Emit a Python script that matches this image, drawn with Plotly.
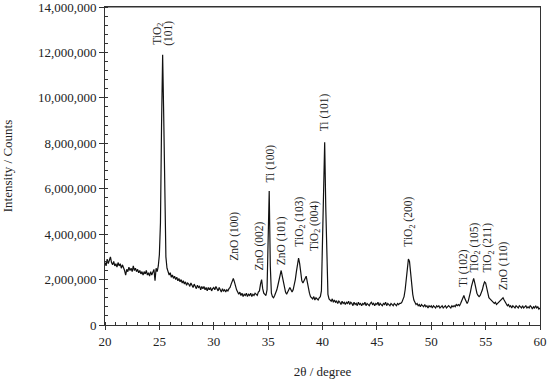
import numpy as np
import plotly.graph_objects as go

# 2θ scan from 20° to 60° in 0.1° steps; intensity (thousands of counts)
intensity_k = [
    # 20.0 - 20.9
    2750, 2600, 2900, 2700, 2850, 3000, 2750, 2650, 2800, 2600,
    # 21.0 - 21.9
    2700, 2550, 2750, 2600, 2700, 2500, 2650, 2550, 2400, 2200,
    # 22.0 - 22.9
    2450, 2350, 2550, 2400, 2500, 2350, 2600, 2400, 2500, 2350,
    # 23.0 - 23.9
    2450, 2300, 2400, 2250, 2350, 2200, 2350, 2250, 2400, 2200,
    # 24.0 - 24.9
    2300, 2150, 2350, 2200, 2300, 2450, 1950, 2500, 2350, 2600,
    # 25.0 - 25.9
    3100, 4500, 8800, 11900, 9200, 4800, 3000, 2500, 2350, 2200,
    # 26.0 - 26.9
    2300, 2100, 2200, 2050, 2150, 2000, 2100, 1950, 2050, 1900,
    # 27.0 - 27.9
    2000, 1850, 1950, 1800, 1900, 1750, 1850, 1800, 1700, 1850,
    # 28.0 - 28.9
    1750, 1650, 1800, 1700, 1600, 1750, 1650, 1700, 1550, 1700,
    # 29.0 - 29.9
    1600, 1700, 1550, 1650, 1500, 1650, 1550, 1650, 1500, 1600,
    # 30.0 - 30.9
    1650, 1550, 1700, 1600, 1500, 1650, 1550, 1450, 1600, 1500,
    # 31.0 - 31.9
    1550, 1450, 1550, 1500, 1600, 1650, 1800, 1950, 2050, 1900,
    # 32.0 - 32.9
    1700, 1550, 1450, 1350, 1450, 1300, 1400, 1250, 1350, 1300,
    # 33.0 - 33.9
    1400, 1250, 1350, 1300, 1400, 1250, 1350, 1300, 1400, 1350,
    # 34.0 - 34.9
    1300, 1450, 1500, 1800, 2000, 1600, 1400, 1350, 1300, 1550,
    # 35.0 - 35.9
    3200, 5900, 2600, 1400, 1250, 1200, 1300, 1400, 1550, 1750,
    # 36.0 - 36.9
    2000, 2250, 2400, 2150, 1850, 1600, 1450, 1350, 1450, 1550,
    # 37.0 - 37.9
    1650, 1550, 1450, 1550, 1750, 2000, 2350, 2750, 2950, 2700,
    # 38.0 - 38.9
    2300, 1950, 1850, 1950, 2100, 2150, 1900, 1600, 1400, 1250,
    # 39.0 - 39.9
    1200, 1150, 1250, 1100, 1200, 1150, 1100, 1200, 1250, 1500,
    # 40.0 - 40.9
    3800, 6600, 8050, 5200, 2300, 1350, 1150, 1100, 1050, 1150,
    # 41.0 - 41.9
    1000, 1100, 1000, 1050, 950, 1050, 1000, 900, 1050, 950,
    # 42.0 - 42.9
    1000, 900, 1000, 950, 1050, 900, 1000, 950, 850, 1000,
    # 43.0 - 43.9
    900, 950, 850, 1000, 900, 950, 850, 950, 900, 1000,
    # 44.0 - 44.9
    850, 950, 900, 850, 950, 1000, 900, 950, 850, 950,
    # 45.0 - 45.9
    900, 1000, 850, 950, 900, 850, 950, 900, 1000, 850,
    # 46.0 - 46.9
    950, 900, 850, 950, 900, 850, 950, 900, 850, 950,
    # 47.0 - 47.9
    900, 950, 950, 1000, 1100, 1250, 1550, 1950, 2500, 2900,
    # 48.0 - 48.9
    2800, 2300, 1700, 1350, 1100, 1000, 900, 950, 850, 900,
    # 49.0 - 49.9
    800, 900, 850, 800, 900, 800, 850, 750, 850, 800,
    # 50.0 - 50.9
    850, 750, 850, 800, 750, 850, 800, 850, 750, 800,
    # 51.0 - 51.9
    850, 750, 800, 850, 750, 800, 850, 800, 750, 850,
    # 52.0 - 52.9
    800, 850, 800, 900, 850, 900, 850, 950, 1100, 1250,
    # 53.0 - 53.9
    1300, 1150, 1000, 950, 1050, 1200, 1450, 1700, 1950, 2050,
    # 54.0 - 54.9
    1850, 1600, 1400, 1300, 1250, 1300, 1400, 1550, 1750, 1900,
    # 55.0 - 55.9
    1850, 1600, 1350, 1200, 1150, 1100, 1050, 1000, 950, 1000,
    # 56.0 - 56.9
    900, 950, 1000, 1050, 1100, 1150, 1200, 1100, 1000, 950,
    # 57.0 - 57.9
    850, 900, 800, 850, 750, 850, 800, 750, 850, 800,
    # 58.0 - 58.9
    750, 850, 800, 750, 850, 750, 800, 850, 750, 800,
    # 59.0 - 59.9
    750, 850, 800, 700, 800, 750, 850, 750, 800, 700,
    # 60.0
    750,
]

two_theta = np.round(20.0 + 0.1 * np.arange(len(intensity_k)), 2)
intensity = np.array(intensity_k) * 1000

# Peak labels: text, 2θ position, intensity where the label starts (bottom of rotated text)
label_texts = [
    "TiO<sub>2</sub>", "(101)", "ZnO (100)", "ZnO (002)", "Ti (100)", "ZnO (101)",
    "TiO<sub>2</sub> (103)", "TiO<sub>2</sub> (004)", "Ti (101)", "TiO<sub>2</sub> (200)",
    "Ti (102)", "TiO<sub>2</sub> (105)", "TiO<sub>2</sub> (211)", "ZnO (110)",
]
label_x = [24.8, 25.85, 31.9, 34.2, 35.2, 36.2, 37.9, 39.25, 40.2, 48.0, 52.9, 54.05, 55.25, 56.6]
label_y = [12.3e6, 12.25e6, 2.78e6, 2.35e6, 6.24e6, 2.57e6, 3.39e6, 3.23e6, 8.47e6, 3.38e6,
           1.62e6, 2.28e6, 2.28e6, 1.47e6]

FONT = "Liberation Serif"
INK = "#222222"
AXIS = "#333333"

fig = go.Figure()
fig.add_trace(go.Scatter(
    x=two_theta, y=intensity, mode="lines",
    line=dict(color="#111111", width=1.2),
    showlegend=False, hoverinfo="skip",
))

for t, x, y in zip(label_texts, label_x, label_y):
    fig.add_annotation(
        x=x, y=y, text=t, textangle=-90, showarrow=False,
        xanchor="center", yanchor="bottom",
        font=dict(family=FONT, size=11.5, color=INK),
        borderpad=0,
    )

# top border of the frame
fig.add_shape(type="line", xref="paper", yref="paper", x0=0, x1=1, y0=1, y1=1,
              line=dict(color=AXIS, width=1), layer="above")

fig.update_layout(
    width=550, height=379,
    margin=dict(l=105, r=10, t=7, b=54, autoexpand=False),
    paper_bgcolor="white", plot_bgcolor="white",
    font=dict(family=FONT, size=13, color=INK),
    hovermode=False,
)
fig.update_xaxes(
    range=[20, 60], dtick=5, tick0=20, automargin=False, ticklabeloverflow="allow",
    showgrid=False, zeroline=False,
    showline=True, linecolor=AXIS, linewidth=1, mirror=True,
    ticks="outside", ticklen=4, tickcolor=AXIS,
    minor=dict(dtick=1, ticks="inside", ticklen=3, tickcolor=AXIS),
    title=dict(text="2θ / degree", font=dict(family=FONT, size=13, color=INK), standoff=19),
    tickfont=dict(family=FONT, size=13, color=INK),
)
fig.update_yaxes(
    range=[0, 14e6], dtick=2e6, tick0=0, tickformat=",d", automargin=False,
    ticklabeloverflow="allow",
    showgrid=False, zeroline=False,
    showline=True, linecolor=AXIS, linewidth=1, mirror=True,
    ticks="outside", ticklen=5, tickcolor=AXIS,
    minor=dict(dtick=4e5, ticks="inside", ticklen=3, tickcolor=AXIS),
    title=dict(text="Intensity / Counts", font=dict(family=FONT, size=13, color=INK), standoff=22),
    tickfont=dict(family=FONT, size=13, color=INK),
)

fig.write_html(
    "out.html",
    config={"displayModeBar": False, "staticPlot": True},
    post_script="document.body.style.margin='0';",
)
